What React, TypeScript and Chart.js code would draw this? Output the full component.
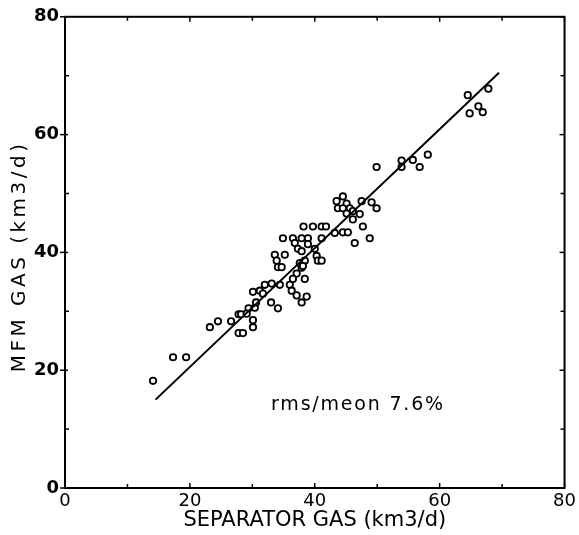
import React, { useEffect, useRef } from "react";
import { Chart, registerables } from "chart.js";

Chart.register(...registerables);

// Separator gas (x) and MFM gas (y), km3/d
const sepGas = [
  14.1, 17.3, 19.4, 23.2, 24.5, 26.6, 27.8, 28.2, 27.8, 28.5, 29.4, 29.1, 30.4, 30.1, 30.1,
  30.6, 33.0, 34.1, 30.1, 31.2, 31.7, 32.0, 33.1, 34.4, 33.6, 35.2, 33.9, 34.1, 34.7, 34.9,
  36.5, 37.9, 38.9, 38.2, 36.8, 37.3, 38.9, 37.6, 37.9, 37.1, 36.5, 36.0, 36.3, 37.1, 38.4,
  38.7, 37.9, 39.7, 41.1, 41.8, 43.2, 44.5, 45.3, 47.7, 48.8, 46.4, 41.1, 37.9, 40.0, 40.3,
  40.5, 41.1, 38.4, 38.1, 44.5, 43.5, 45.1, 43.7, 44.5, 45.6, 46.1, 45.1, 47.2, 46.1, 47.5,
  49.1, 49.9, 49.9, 53.9, 53.9, 55.7, 56.8, 58.1, 64.5, 67.8, 64.8, 66.2, 66.9,
];
const mfmGas = [
  18.2, 22.2, 22.2, 27.3, 28.3, 28.3, 29.5, 29.5, 26.3, 26.3, 30.5, 29.6, 30.6, 28.5, 27.3,
  31.5, 31.5, 30.5, 33.3, 33.5, 33.0, 34.5, 34.7, 34.5, 39.6, 39.6, 38.6, 37.5, 37.5, 42.4,
  42.4, 42.4, 42.4, 44.4, 41.6, 40.6, 41.4, 38.2, 37.4, 36.4, 35.5, 34.5, 33.5, 32.7, 35.5,
  32.5, 31.5, 44.4, 44.4, 44.4, 43.3, 43.4, 43.4, 44.4, 42.4, 41.6, 42.4, 40.2, 40.6, 39.4,
  38.6, 38.6, 38.6, 37.7, 49.5, 48.7, 48.3, 47.5, 47.5, 47.5, 47.0, 46.6, 46.5, 45.6, 48.7,
  48.5, 47.5, 54.5, 55.6, 54.5, 55.7, 54.5, 56.6, 66.7, 67.8, 63.6, 64.8, 63.8,
];
const fitX = [14.5, 69.5];
const fitY = [15.0, 70.5];
const axisMin = 0;
const axisMax = 80;
const majorStep = 20;
const minorStep = 10;
const xTitle = "SEPARATOR GAS (km3/d)";
const yTitle = "MFM GAS (km3/d)";
const noteText = "rms/meon 7.6%";
const notePos = [33.0, 14.1];

const FONT = '"DejaVu Sans", sans-serif';

const framePlugin = {
  id: "frame",
  afterDraw(chart: any) {
    const { ctx, chartArea: a, scales } = chart;
    const x = scales.x;
    const y = scales.y;
    ctx.save();
    ctx.strokeStyle = "#000";
    ctx.lineWidth = 2;
    ctx.strokeRect(a.left, a.top, a.right - a.left, a.bottom - a.top);
    ctx.lineWidth = 1.5;
    const seg = (x1: number, y1: number, x2: number, y2: number) => {
      ctx.beginPath();
      ctx.moveTo(x1, y1);
      ctx.lineTo(x2, y2);
      ctx.stroke();
    };
    for (let v = axisMin; v <= axisMax; v += minorStep) {
      const major = v % majorStep === 0;
      const px = x.getPixelForValue(v);
      const py = y.getPixelForValue(v);
      if (major) {
        seg(a.left - 5, py, a.left + 3, py);
        seg(a.right, py, a.right - 5, py);
        seg(px, a.bottom, px, a.bottom - 5);
        seg(px, a.top, px, a.top + 5);
      } else {
        seg(a.left, py, a.left + 4, py);
        seg(a.right, py, a.right - 4, py);
        seg(px, a.bottom, px, a.bottom - 4);
        seg(px, a.top, px, a.top + 4);
      }
    }
    ctx.fillStyle = "#000";
    // annotation
    ctx.font = `19px ${FONT}`;
    (ctx as any).letterSpacing = "1.8px";
    ctx.textAlign = "left";
    ctx.textBaseline = "middle";
    ctx.fillText(noteText, x.getPixelForValue(notePos[0]), y.getPixelForValue(notePos[1]));
    // y axis title (letter-spaced, rotated)
    ctx.font = `20px ${FONT}`;
    (ctx as any).letterSpacing = "3.5px";
    ctx.translate(20, (a.top + a.bottom) / 2 + 4);
    ctx.rotate(-Math.PI / 2);
    ctx.textAlign = "center";
    ctx.fillText(yTitle, 0, 0);
    ctx.restore();
  },
};

export default function App() {
  const ref = useRef<HTMLCanvasElement | null>(null);
  useEffect(() => {
    if (!ref.current) return;
    const points = sepGas.map((v, i) => ({ x: v, y: mfmGas[i] }));
    const fit = fitX.map((v, i) => ({ x: v, y: fitY[i] }));
    const chart = new Chart(ref.current, {
      type: "scatter",
      data: {
        datasets: [
          {
            type: "line",
            data: fit,
            borderColor: "#000",
            borderWidth: 2,
            pointRadius: 0,
            fill: false,
          } as any,
          {
            data: points,
            pointStyle: "circle",
            pointRadius: 3.2,
            pointBorderWidth: 1.8,
            pointBorderColor: "#000",
            pointBackgroundColor: "#fff",
          },
        ],
      },
      plugins: [framePlugin],
      options: {
        animation: false,
        responsive: false,
        layout: { autoPadding: false, padding: { top: 14, right: 14, left: 0, bottom: 0 } },
        plugins: { legend: { display: false }, tooltip: { enabled: false } },
        scales: {
          x: {
            type: "linear",
            min: axisMin,
            max: axisMax,
            grid: { display: false, drawTicks: false },
            border: { display: false },
            ticks: {
              stepSize: majorStep,
              color: "#000",
              padding: 3,
              font: { family: FONT, size: 18 },
            },
            title: {
              display: true,
              text: xTitle,
              color: "#000",
              font: { family: FONT, size: 21 },
              padding: { top: 0, bottom: 2 },
            },
            afterFit: (s: any) => {
              s.height = 47;
            },
          },
          y: {
            type: "linear",
            min: axisMin,
            max: axisMax,
            grid: { display: false, drawTicks: false },
            border: { display: false },
            ticks: {
              stepSize: majorStep,
              color: "#000",
              padding: 6,
              font: { family: FONT, size: 18, weight: "bold" },
            },
            afterFit: (s: any) => {
              s.width = 65;
            },
          },
        },
      },
    });
    return () => chart.destroy();
  }, []);
  return (
    <div style={{ position: "fixed", left: 0, top: 0, width: 579, height: 535, background: "#fff" }}>
      <canvas ref={ref} width={579} height={535} style={{ width: 579, height: 535, display: "block" }} />
    </div>
  );
}
